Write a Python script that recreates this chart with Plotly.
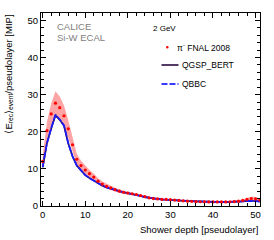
import plotly.graph_objects as go

layers = list(range(52))
data_vals = [12.0, 20.3, 24.8, 27.7, 26.5, 24.3, 20.8, 16.5, 12.6, 10.9,
             9.7, 8.7, 7.8, 6.7, 5.9, 5.3, 4.9, 4.4, 4.0, 3.7,
             3.5, 3.3, 3.1, 2.8, 2.5, 2.2, 2.0, 1.9, 1.8, 1.8,
             1.7, 1.6, 1.5, 1.4, 1.3, 1.25, 1.2, 1.15, 1.15, 1.1,
             1.1, 1.1, 1.1, 1.1, 1.15, 1.2, 1.3, 1.5, 1.8, 2.0,
             1.9, 1.6]
data_err = [1.5, 2.4, 2.9, 3.2, 3.0, 2.8, 2.4, 1.9, 1.5, 1.3,
            1.15, 1.0, 0.9, 0.8, 0.7, 0.62, 0.57, 0.52, 0.47, 0.44,
            0.41, 0.38, 0.36, 0.33, 0.3, 0.27, 0.25, 0.23, 0.22, 0.22,
            0.21, 0.2, 0.19, 0.18, 0.17, 0.17, 0.16, 0.16, 0.16, 0.16,
            0.16, 0.16, 0.16, 0.17, 0.18, 0.2, 0.25, 0.35, 0.45, 0.5,
            0.5, 0.45]
qgsp_vals = [10.4, 16.9, 20.9, 24.4, 23.2, 21.6, 16.9, 13.4, 10.9, 9.5,
             8.3, 7.5, 6.8, 6.1, 5.5, 5.0, 4.6, 4.3, 4.0, 3.7,
             3.5, 3.3, 3.0, 2.7, 2.4, 2.2, 2.0, 1.85, 1.75, 1.7,
             1.6, 1.55, 1.5, 1.4, 1.35, 1.3, 1.25, 1.2, 1.15, 1.1,
             1.1, 1.05, 1.05, 1.05, 1.1, 1.1, 1.15, 1.25, 1.35, 1.4,
             1.35, 1.2]
qbbc_vals = [10.5, 17.0, 21.0, 24.6, 23.3, 21.7, 16.9, 13.4, 10.9, 9.5,
             8.3, 7.5, 6.8, 6.1, 5.5, 5.0, 4.6, 4.3, 4.0, 3.7,
             3.5, 3.3, 3.0, 2.7, 2.4, 2.2, 2.0, 1.85, 1.75, 1.7,
             1.6, 1.55, 1.5, 1.4, 1.35, 1.3, 1.25, 1.2, 1.15, 1.1,
             1.1, 1.05, 1.05, 1.05, 1.1, 1.1, 1.15, 1.25, 1.35, 1.4,
             1.35, 1.2]

upper = [v + e for v, e in zip(data_vals, data_err)]
lower = [v - e for v, e in zip(data_vals, data_err)]

FONT = "Liberation Sans, Arial, sans-serif"
fig = go.Figure()
fig.add_trace(go.Scatter(x=layers, y=lower, mode="lines", line=dict(width=0),
                         showlegend=False, hoverinfo="skip"))
fig.add_trace(go.Scatter(x=layers, y=upper, mode="lines", line=dict(width=0),
                         fill="tonexty", fillcolor="rgba(255,90,90,0.55)",
                         showlegend=False, hoverinfo="skip"))
fig.add_trace(go.Scatter(x=layers, y=qgsp_vals, mode="lines",
                         line=dict(color="#2a0a40", width=1.6), name="QGSP_BERT",
                         showlegend=False))
fig.add_trace(go.Scatter(x=layers, y=qbbc_vals, mode="lines",
                         line=dict(color="#1a1aff", width=1.8, dash="7px,1px"), name="QBBC",
                         showlegend=False))
fig.add_trace(go.Scatter(x=layers, y=data_vals, mode="markers",
                         marker=dict(color="#ff0000", size=3.2, symbol="circle"),
                         name="FNAL 2008", showlegend=False))

W, H = 274, 240
L, T = 41, 13
R = W - 260
B = H - 206
pw, ph = W - L - R, H - T - B

def px(x):
    return (x - L) / pw

def py(y):
    return (H - B - y) / ph

axis_common = dict(showline=True, linecolor="black", linewidth=1, mirror="ticks",
                   ticks="inside", ticklen=5, tickcolor="black", showgrid=False,
                   zeroline=False, tickfont=dict(family=FONT, size=9.5, color="black"))
fig.update_xaxes(range=[-0.4, 51.05], dtick=10, tick0=0,
                 minor=dict(ticks="inside", ticklen=3, dtick=2, tickcolor="black"),
                 **axis_common)
fig.update_yaxes(range=[0, 52], dtick=10, tick0=0,
                 minor=dict(ticks="inside", ticklen=3, dtick=2, tickcolor="black"),
                 **axis_common)

ann = []
ann.append(dict(text="Shower depth [pseudolayer]", xref="paper", yref="paper",
                x=px(259.5), y=py(229), xanchor="right", yanchor="middle",
                showarrow=False, font=dict(family=FONT, size=9.5, color="black")))
ann.append(dict(text="⟨E<sub>rec</sub>⟩<sub>event</sub>/pseudolayer [MIP]",
                xref="paper", yref="paper", x=px(8), y=py(13), textangle=-90,
                xanchor="center", yanchor="top", showarrow=False,
                font=dict(family=FONT, size=9.5, color="black")))
ann.append(dict(text="CALICE", xref="paper", yref="paper", x=px(55), y=py(26),
                xanchor="left", yanchor="middle", showarrow=False,
                font=dict(family=FONT, size=9.5, color="#808080")))
ann.append(dict(text="Si-W ECAL", xref="paper", yref="paper", x=px(55), y=py(37),
                xanchor="left", yanchor="middle", showarrow=False,
                font=dict(family=FONT, size=9.5, color="#808080")))
ann.append(dict(text="2 GeV", xref="paper", yref="paper", x=px(178), y=py(29),
                xanchor="right", yanchor="middle", showarrow=False,
                font=dict(family=FONT, size=8, color="black")))
ann.append(dict(text="π<sup>-</sup> FNAL 2008", xref="paper", yref="paper", x=px(175), y=py(47.5),
                xanchor="left", yanchor="middle", showarrow=False,
                font=dict(family=FONT, size=8.5, color="black")))
ann.append(dict(text="QGSP_BERT", xref="paper", yref="paper", x=px(179.5), y=py(65),
                xanchor="left", yanchor="middle", showarrow=False,
                font=dict(family=FONT, size=8.5, color="black")))
ann.append(dict(text="QBBC", xref="paper", yref="paper", x=px(179.5), y=py(84),
                xanchor="left", yanchor="middle", showarrow=False,
                font=dict(family=FONT, size=8.5, color="black")))

shapes = [
    dict(type="circle", xref="paper", yref="paper", x0=px(166.0), x1=px(168.6),
         y0=py(48.6), y1=py(46.0), fillcolor="#ff0000", line=dict(width=0)),
    dict(type="line", xref="paper", yref="paper", x0=px(161.5), x1=px(178.5),
         y0=py(65), y1=py(65), line=dict(color="#2a0a40", width=1.6)),
    dict(type="line", xref="paper", yref="paper", x0=px(161.5), x1=px(178.5),
         y0=py(84), y1=py(84), line=dict(color="#3a3aff", width=1.8, dash="6px,2px")),
]

fig.update_layout(width=W, height=H, margin=dict(l=L, r=R, t=T, b=B, pad=0),
                  paper_bgcolor="white", plot_bgcolor="white",
                  annotations=ann, shapes=shapes, showlegend=False,
                  font=dict(family=FONT))
fig.write_html("out.html", config={"displayModeBar": False},
               post_script="document.body.style.margin='0';document.body.style.overflow='hidden';")
